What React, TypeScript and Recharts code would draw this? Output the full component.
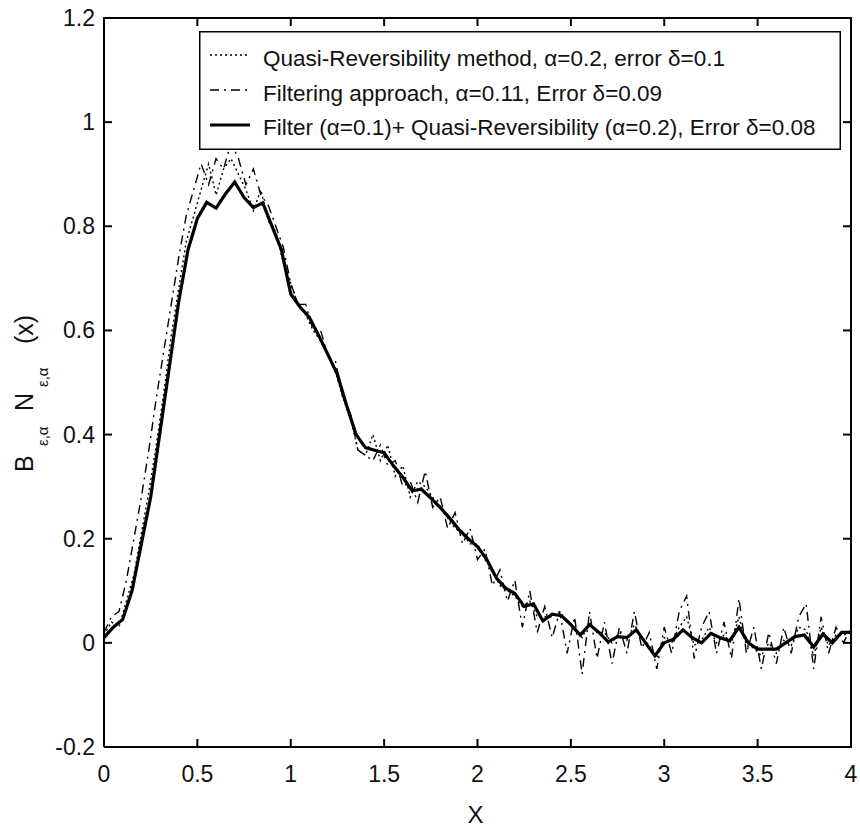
import { LineChart, Line, XAxis, YAxis } from 'recharts'

const solidStep = 0.05
const noisyStep = 0.04

const xTicks = [0, 0.5, 1, 1.5, 2, 2.5, 3, 3.5, 4]
const yTicks = [-0.2, 0, 0.2, 0.4, 0.6, 0.8, 1, 1.2]
const xDomain = [0, 4]
const yDomain = [-0.2, 1.2]

const legendLabels = [
    'Quasi-Reversibility method, \u03b1=0.2, error \u03b4=0.1',
    'Filtering approach, \u03b1=0.11, Error \u03b4=0.09',
    'Filter (\u03b1=0.1)+ Quasi-Reversibility (\u03b1=0.2), Error \u03b4=0.08',
]

// Filter + Quasi-Reversibility (solid), x = 0 .. 4 every 0.05
const combinedY = [
    0.01, 0.03, 0.045, 0.10, 0.19, 0.28, 0.405, 0.53, 0.655, 0.755,
    0.815, 0.846, 0.835, 0.862, 0.885, 0.855, 0.836, 0.845, 0.80, 0.755,
    0.67, 0.645, 0.625, 0.59, 0.553, 0.515, 0.455, 0.40, 0.375, 0.37,
    0.365, 0.34, 0.318, 0.292, 0.295, 0.278, 0.26, 0.24, 0.218, 0.20,
    0.185, 0.16, 0.125, 0.105, 0.095, 0.07, 0.075, 0.042, 0.055, 0.052,
    0.035, 0.015, 0.035, 0.02, 0.002, 0.012, 0.01, 0.025, 0.0, -0.025,
    0.0, 0.007, 0.025, 0.01, 0.0, 0.018, 0.01, 0.004, 0.03, 0.0,
    -0.012, -0.012, -0.012, 0.0, 0.012, 0.015, -0.008, 0.017, 0.0, 0.02,
    0.02,
]

// Quasi-Reversibility (dotted), x = 0 .. 4 every 0.04
const quasiY = [
    0.015, 0.04, 0.03, 0.08, 0.13, 0.21, 0.29, 0.38, 0.48, 0.59,
    0.68, 0.77, 0.82, 0.87, 0.92, 0.86, 0.91, 0.93, 0.9, 0.87,
    0.83, 0.87, 0.81, 0.79, 0.73, 0.69, 0.65, 0.63, 0.6, 0.58,
    0.55, 0.52, 0.47, 0.43, 0.37, 0.36, 0.4, 0.35, 0.38, 0.32,
    0.34, 0.28, 0.31, 0.3, 0.28, 0.26, 0.24, 0.22, 0.21, 0.19,
    0.19, 0.16, 0.14, 0.11, 0.1, 0.09, 0.07, 0.08, 0.05, 0.05,
    0.05, 0.06, 0.04, 0.03, 0.01, 0.04, 0.02, 0.02, 0.0, 0.02,
    0.005, 0.035, 0.01, -0.005, -0.03, 0.01, 0.0, 0.03, 0.05, -0.005,
    0.005, 0.03, 0.0, 0.015, 0.0, 0.05, -0.005, -0.01, -0.025, 0.0,
    -0.02, 0.005, -0.005, 0.03, 0.025, -0.025, 0.03, -0.005, 0.015, 0.015,
    0.02,
]

// Filtering approach (dash-dot), x = 0 .. 4 every 0.04
const filterY = [
    0.02, 0.05, 0.06, 0.12, 0.2, 0.28, 0.37, 0.47, 0.56, 0.65,
    0.74, 0.82, 0.87, 0.92, 0.88, 0.93, 0.91, 0.96, 0.93, 0.88,
    0.91, 0.86, 0.84, 0.8, 0.76, 0.69, 0.65, 0.65, 0.6, 0.6,
    0.55, 0.54, 0.47, 0.44, 0.37, 0.36, 0.35, 0.38, 0.34, 0.35,
    0.3, 0.31, 0.27, 0.33, 0.26, 0.28, 0.22, 0.25, 0.19, 0.22,
    0.16, 0.18, 0.11, 0.14, 0.08, 0.12, 0.03, 0.1, 0.02, 0.07,
    0.01, 0.06, -0.02, 0.05, -0.06, 0.06, -0.03, 0.04, -0.04, 0.03,
    -0.02, 0.06, -0.01, 0.02, -0.05, 0.03, -0.02, 0.06, 0.09, -0.03,
    0.03, 0.06, -0.02, 0.04, -0.03, 0.085, -0.02, 0.03, -0.05, 0.02,
    -0.04, 0.03, -0.02, 0.05, 0.075, -0.05, 0.05, -0.02, 0.03, 0.0,
    0.03,
]

const toPoints = (ys: number[], step: number) =>
    ys.map((y, i) => ({ x: +(i * step).toFixed(2), y }))

const combinedData = toPoints(combinedY, solidStep)
const quasiData = toPoints(quasiY, noisyStep)
const filterData = toPoints(filterY, noisyStep)

// box round the axes, walked corner to corner through the domain limits
const frameData = [
    { x: xDomain[0], y: yDomain[0] },
    { x: xDomain[1], y: yDomain[0] },
    { x: xDomain[1], y: yDomain[1] },
    { x: xDomain[0], y: yDomain[1] },
    { x: xDomain[0], y: yDomain[0] },
]

const FONT = '"Liberation Sans", Arial, sans-serif'
const INK = '#111'
const TICK_LEN = 8
const LINE_W = 2

const W = 860
const H = 828
const MARGIN = { top: 18, right: 9, bottom: 21, left: 24 }
const PLOT_TOP = MARGIN.top
const PLOT_RIGHT = W - MARGIN.right

const legendStyles = [
    { dash: '2 3', width: 1.4 },
    { dash: '9 5 2 5', width: 1.4 },
    { dash: undefined, width: 3.2 },
]

const LegendBox = () => (
    <svg width={642} height={119} style={{ display: 'block' }}>
        <rect x={0.75} y={0.75} width={640.5} height={117.5} fill='#fff' stroke='#000' strokeWidth={1.5} />
        {legendLabels.map((label, i) => (
            <g key={label}>
                <line
                    x1={11} x2={51} y1={24 + i * 35} y2={24 + i * 35}
                    stroke='#000'
                    strokeWidth={legendStyles[i].width}
                    strokeDasharray={legendStyles[i].dash}
                />
                <text x={64} y={35 + i * 34.5} fontSize={22.5} fontFamily={FONT} fill={INK}>{label}</text>
            </g>
        ))}
    </svg>
)

const YLabel = () => (
    <g transform='translate(33, 473) rotate(-90)' fontFamily={FONT} fill={INK}>
        <text x={1} y={0} fontSize={25}>B</text>
        <text x={27} y={15} fontSize={15}>{'\u03b5,\u03b1'}</text>
        <text x={62} y={0} fontSize={25}>N</text>
        <text x={86} y={15} fontSize={15}>{'\u03b5,\u03b1'}</text>
        <text x={129} y={0} fontSize={25}>(x)</text>
    </g>
)

const XLabel = ({ viewBox }: any) => (
    <text
        x={viewBox.x + viewBox.width / 2 - 2}
        y={823}
        textAnchor='middle'
        fontSize={24}
        fontFamily={FONT}
        fill={INK}
    >X</text>
)

// MATLAB style: tick marks point into the plot on all four sides, labels outside
const mark = (d: string) => <path d={d} stroke='#000' strokeWidth={LINE_W} fill='none' />

const BottomTick = ({ x, y, payload }: any) => (
    <g>
        {mark(`M${x},${y}V${y - TICK_LEN}`)}
        {mark(`M${x},${PLOT_TOP}V${PLOT_TOP + TICK_LEN}`)}
        <text x={x} y={y + 35} textAnchor='middle' fontSize={23} fontFamily={FONT} fill={INK}>
            {payload.value}
        </text>
    </g>
)

const LeftTick = ({ x, y, payload }: any) => (
    <g>
        {mark(`M${x},${y}H${x + TICK_LEN}`)}
        {mark(`M${PLOT_RIGHT},${y}H${PLOT_RIGHT - TICK_LEN}`)}
        <text x={x - 9} y={y + 8} textAnchor='end' fontSize={23} fontFamily={FONT} fill={INK}>
            {payload.value}
        </text>
    </g>
)

export default function App() {
    return (
        <div style={{ position: 'absolute', left: 0, top: 0, width: W, height: H, background: '#fff' }}>
            <LineChart width={W} height={H} margin={MARGIN}>
                <XAxis
                    dataKey='x'
                    type='number'
                    domain={xDomain}
                    ticks={xTicks}
                    height={60}
                    stroke='#000'
                    strokeWidth={LINE_W}
                    tickLine={false}
                    tickSize={0}
                    tickMargin={0}
                    tick={<BottomTick />}
                    label={<XLabel />}
                />
                <YAxis
                    type='number'
                    domain={yDomain}
                    ticks={yTicks}
                    width={80}
                    stroke='#000'
                    strokeWidth={LINE_W}
                    tickLine={false}
                    tickSize={0}
                    tickMargin={0}
                    tick={<LeftTick />}
                    label={<YLabel />}
                />
                <Line
                    data={frameData}
                    dataKey='y'
                    stroke='#000'
                    strokeWidth={LINE_W}
                    dot={false}
                    legendType='none'
                    isAnimationActive={false}
                />
                <Line
                    data={quasiData}
                    dataKey='y'
                    name={legendLabels[0]}
                    stroke='#000'
                    strokeWidth={1.4}
                    strokeDasharray='2 3'
                    dot={false}
                    isAnimationActive={false}
                />
                <Line
                    data={filterData}
                    dataKey='y'
                    name={legendLabels[1]}
                    stroke='#000'
                    strokeWidth={1.4}
                    strokeDasharray='9 5 2 5'
                    dot={false}
                    isAnimationActive={false}
                />
                <Line
                    data={combinedData}
                    dataKey='y'
                    name={legendLabels[2]}
                    stroke='#000'
                    strokeWidth={3.2}
                    dot={false}
                    isAnimationActive={false}
                />
            </LineChart>
            <div style={{ position: 'absolute', left: 199, top: 31 }}>
                <LegendBox />
            </div>
        </div>
    )
}
